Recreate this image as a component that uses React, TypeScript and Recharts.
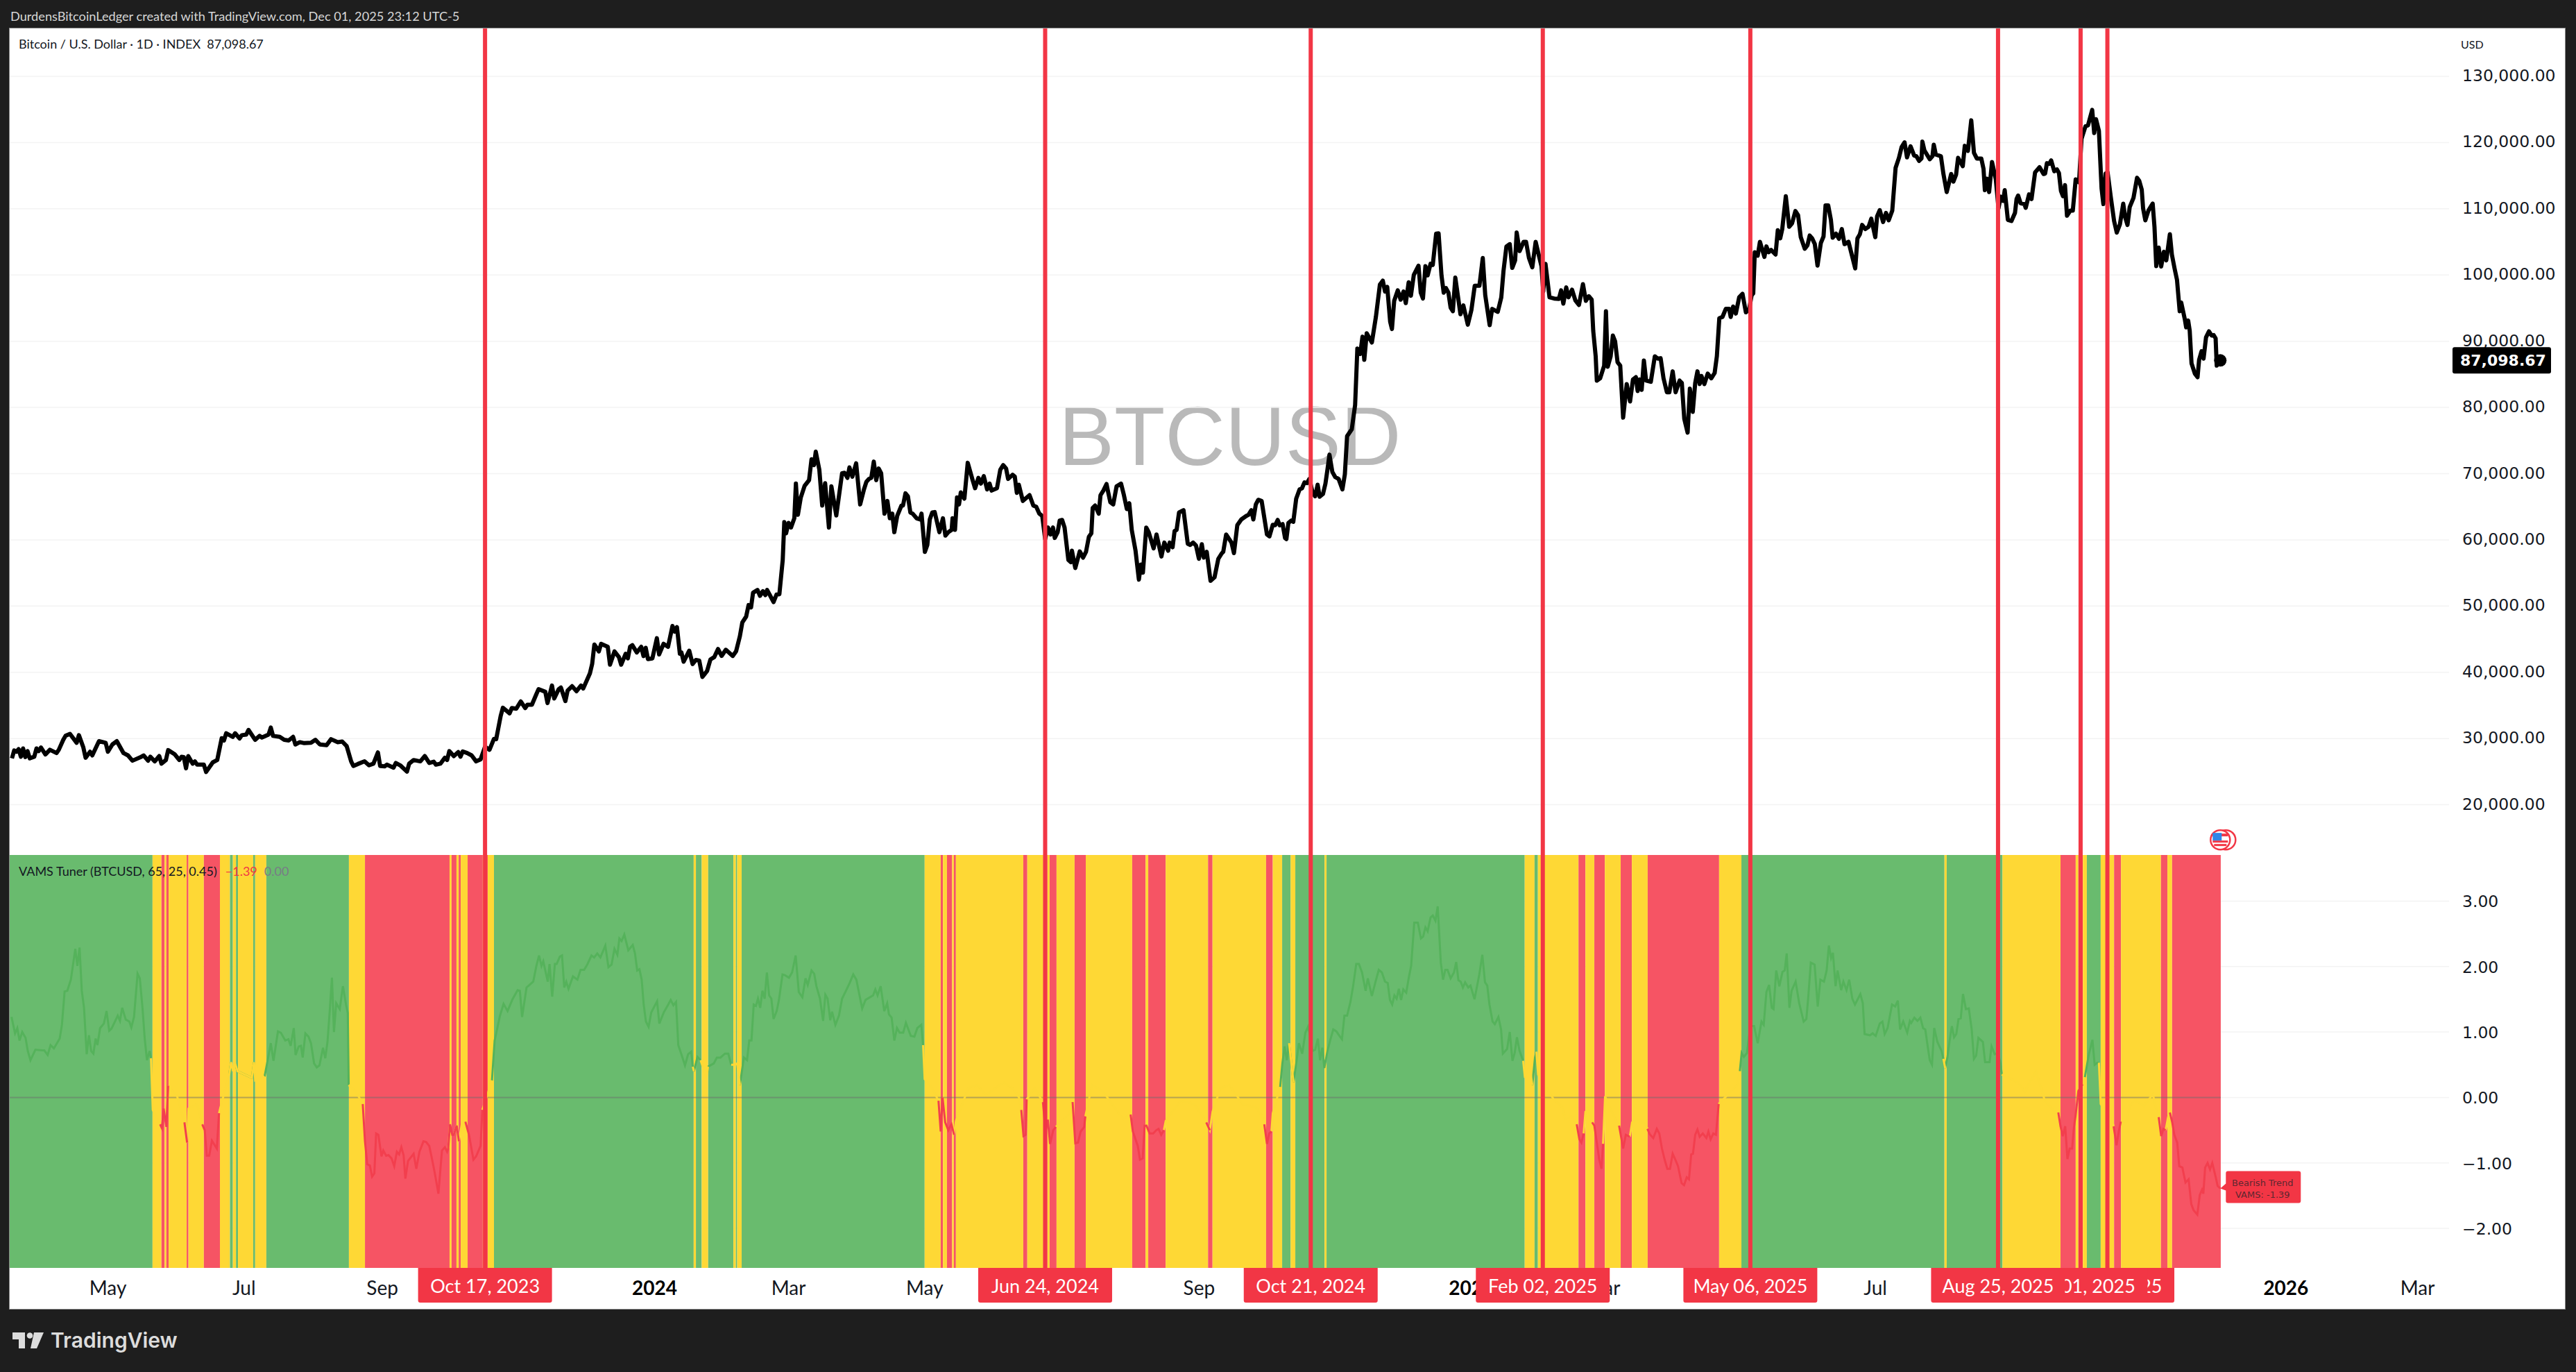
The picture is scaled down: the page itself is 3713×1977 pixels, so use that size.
import React from 'react';
import { ComposedChart, Line, XAxis, YAxis, CartesianGrid, ReferenceArea, ReferenceLine, ReferenceDot } from 'recharts';

type Pair = [number, number];

// day = days since Mar 18 2023
const btc2023: Pair[] = [[1,27000],[2,28200],[3,28000],[4,28400],[5,27250],[6,28500],[7,27200],[8,28100],[9,27000],[11,27250],[12,28500],[13,28100],[14,28650],[16,27600],[18,28300],[21,27800],[22,28300],[24,29800],[25,30400],[27,30700],[30,29350],[31,30500],[33,28650],[34,27100],[36,28000],[37,27450],[40,29600],[43,29350],[44,28000],[46,29100],[48,29600],[51,27800],[53,27450],[55,26650],[59,27250],[60,27450],[62,26650],[63,27250],[65,26550],[67,27350],[68,26200],[70,26750],[71,28250],[74,27600],[76,26750],[77,27250],[78,27200],[79,25500],[80,27350],[82,26200],[83,26550],[84,26050],[87,26050],[88,24950],[91,26400],[93,26750],[95,30050],[96,29700],[97,30800],[100,30250],[101,30800],[103,30000],[104,30500],[106,30600],[107,31300],[110,29800],[112,30400],[113,30150],[116,30600],[117,31650],[118,30400],[121,30250],[123,29800],[125,29700],[127,30250],[128,29100],[130,29450],[132,29300],[135,29350],[137,29800],[139,29100],[142,29000],[144,29900],[147,29450],[149,29550],[151,28850],[153,26550],[154,25850],[156,26150],[159,26550],[161,25950],[163,26200],[165,27900],[166,25850],[168,25800],[169,26050],[172,25600],[173,26300],[175,25950],[178,25000],[179,26200],[181,26750],[184,26550],[186,27350],[188,26300],[190,26500],[191,26050],[193,26200],[195,27100],[196,26750],[197,28100],[199,27350],[201,27950],[202,27250],[203,28050],[205,27800],[207,27450],[209,26550],[211,26850],[213,28750],[215,28300],[217,29950],[218,29900],[220,33400],[221,34650],[224,33800],[225,34600],[227,34500],[229,35600],[231,34600],[232,35100],[234,35100],[236,36700],[237,37450],[240,37050],[241,35350],[243,38000],[244,36050],[246,37450],[247,37700],[249,35650],[250,37230],[252,37900],[254,37150],[256,38000],[257,37550],[260,39850],[261,41250],[262,44200],[264,43150],[265,44300],[268,43850],[269,41150],[271,43150],[273,42300],[274,41150],[276,42800],[277,42100],[278,43850],[279,44100],[281,43000],[283,43850],[284,42450],[285,43700],[286,42000],[288,42100]];

const btc2024a: Pair[] = [[290,45150],[291,42700],[293,44300],[295,43850],[297,47000],[298,46130],[299,46830],[300.3,42800],[301,43000],[302,41600],[304.5,43270],[306,41250],[307.5,41870],[309,41760],[310.4,39300],[312.5,40190],[314,41940],[315.7,42290],[317.4,43520],[319,42470],[320.9,43400],[324,42470],[325.5,43170],[327.2,45440],[328.3,47540],[330,48410],[331.1,50150],[332.2,49800],[333.1,52010],[335.1,52430],[336.2,51550],[337.5,52250],[338.6,51660],[339.4,52430],[342.3,50610],[343.6,51730],[344.9,51800],[346.4,56970],[347.1,62700],[347.9,60990],[349,62560],[350.1,61860],[351.6,63260],[352.3,68500],[353.2,63780],[354.5,66400],[356.2,68150],[358.2,69020],[359.3,72170],[360.4,71290],[361.2,73320],[362.8,70600],[364.1,65180],[365.4,68570],[367.1,61860],[368.2,68080],[370.4,63680],[373,70070],[374.1,70140],[375.4,69370],[376.3,70940],[377.6,69550],[379.3,71570],[381.1,65350],[382.8,67620],[383.9,68780],[385,69200],[386.1,69370],[387.2,71820],[388.3,69020],[389.4,70770],[390.5,70070],[392,63960],[393.3,65880],[394.4,63260],[395.5,63960],[396.4,61160],[397.7,63610],[399.6,65180],[400.3,65180],[401.4,67030],[402.5,66580],[403.6,64130],[404.6,63960],[406.4,63260],[407.9,63080],[408.6,63960],[410.1,58190],[411.2,59240],[412.3,63080],[413.4,64130],[414.5,64200],[416.6,61160],[418.2,63260],[419.3,60640],[420.6,61160],[422.1,61510],[422.5,63260],[423.6,61510],[424.5,66400],[425.4,65350],[426.2,67170],[427.8,66230],[429.3,71640],[431.5,69020],[432.6,67800],[434.1,69370],[435.2,68500],[436.5,69620],[438,67620],[439.1,68500],[440,67450],[442.4,67800],[443.9,70600],[445.2,71290],[446.5,70770],[447.4,69200],[449.4,69830],[450.4,69550],[451.3,67100],[452.2,68330],[454,65880],[457,66750],[458.7,65180],[460,65000],[461.4,63960],[462.7,63610],[464,60110],[465.3,61860],[466.4,60810],[467.5,61860],[468.3,60290],[469.6,61160],[470.5,62910],[471.6,63010],[472.7,61860],[474.4,56970],[475.5,56620],[476,58360],[477.5,55750],[479.5,58260],[481,57320],[482.3,58190],[483.6,60460],[484.7,60990],[485.3,64830],[486.4,65180],[488,63960],[488.8,66750],[490.1,67450],[491.5,68430],[492.3,67100],[493.2,65700],[494.5,65350],[496,68080],[498,68500],[499.3,66750],[500.6,64660],[501.7,65530],[502.8,61510],[504.5,58360],[506,54000],[506.9,56270],[507.8,55050],[509.3,61860],[510.4,61160],[512.6,58720],[513.9,60810],[516.1,57490],[517.4,59590],[519.1,58360],[519.8,59590],[521.1,58890],[522,61340],[522.9,61510],[524,64130],[526,64480],[527.9,59420],[529,59240],[530.3,59590],[531.6,59140],[532.9,57140],[534.2,59340],[535.1,57320],[536.4,58190],[538.1,53820],[539.9,54350],[541.6,57140],[543.1,57950],[543.8,58190],[545.1,60810],[547.5,59590],[548.6,58000],[550.1,62210],[551.9,63080],[554.1,63610],[555.1,63780],[556.4,64480],[557.3,63080],[558.4,65350],[559.5,66050],[561,65880],[563.4,60810],[564.5,60530],[566,62280],[567.1,62210],[568.2,63010],[569.1,62210],[570.4,62380],[571.5,60290],[572.1,60110],[573,62560],[574.3,62910],[575.2,62730],[576.5,66230],[578,67620],[579.1,67800],[580.2,68680],[581.3,68570],[582.4,69200],[583.9,67100],[585,66580],[586.1,68330],[587,66510],[588.5,66930],[589.6,68500],[590.5,70600],[591.4,72870],[592.7,70250],[594,69480],[595.5,69200],[597.2,67620],[598.3,69900]];

const btc2024b: Pair[] = [[599.3,75660],[601.4,76710],[602.9,80380],[603.9,88900],[605.2,88070],[606.2,90690],[607,87190],[608.1,91210],[610.4,89810],[612.2,93660],[614,98550],[615.3,99140],[616.3,97500],[617.3,98200],[618.6,92960],[619.4,91840],[620.4,96100],[622,97680],[623.3,96280],[624.6,97500],[625.6,95750],[626.9,98900],[627.9,96870],[629.2,100020],[631.3,101410],[632.3,97330],[633.3,96450],[634.4,101340],[635.4,99950],[636.7,101690],[637.7,101520],[639.2,106240],[640.3,106300],[641.6,99950],[642.6,97330],[643.6,98030],[644.7,97330],[645.7,95060],[646.7,94530],[647.8,99600],[650.1,94080],[651.4,95400],[653.4,92500],[655,94710],[656.5,98380],[658.6,98380],[660.1,102570],[661.2,96980],[663.2,92430],[664.3,94880],[666.8,94430],[668.4,96630],[669.4,100650],[670.7,104310],[672.2,104660],[673.3,101070],[674.6,102220],[675.3,106410],[676.6,103620],[678.4,105010],[679.5,105010],[680.8,102570],[682.3,101170],[683.8,105010],[684.9,103440],[686.4,101340],[687.2,97500],[688.2,101690],[690,96630],[692.1,96450],[694.2,96380],[695.2,97680],[696.2,95680],[697.5,98130],[698.5,96630],[700.1,97780],[701.6,96170],[703.2,95470],[705,98620],[706.3,96100],[707.6,96800],[708.9,96280],[709.6,91560],[710.7,87720],[711.2,84050],[712.7,84400],[714.5,86320],[715.3,94530],[716.1,86150],[717.4,87720],[718.4,90860],[719.4,89990],[720.5,86840],[721.7,86320],[723,78460],[724.6,83530],[726.1,80900],[727.4,84220],[728.7,84570],[729.5,82480],[730.3,84220],[731.3,82650],[732.3,87090],[733.3,84050],[735.4,83870],[737.2,87720],[738.5,87370],[739.8,87440],[741.1,84400],[742.6,82300],[743.7,82300],[745.2,85450],[746.5,82300],[748.3,84050],[749.3,83700],[750.4,78280],[751.9,76190],[752.9,82830],[754.2,79330],[755.3,83700],[756.3,85450],[757.3,83530],[758.1,84750],[759.4,83530],[760.9,85100],[762.5,84400],[764,85200],[765,87720],[766.1,93480]];

const btc2025: Pair[] = [[767.5,93660],[769,94880],[770.5,94880],[771.2,93660],[772.3,95230],[773.5,94180],[775,96630],[776.5,97150],[778,94360],[779.5,94880],[780.6,96980],[781.3,97220],[782,103440],[783.3,102920],[784.3,105010],[786.3,102740],[787.2,104310],[788.2,103440],[789.3,103790],[791.3,103090],[792.3,106760],[793.4,105540],[794.3,106940],[795.9,111900],[797.4,107290],[798.7,107810],[800.2,109660],[801.4,109030],[802.6,105710],[804.4,103970],[805.6,104490],[806.6,105960],[807.7,105540],[808.9,104660],[810.1,101420],[811.6,104840],[812.8,105820],[813.7,110500],[814.9,110500],[816.1,108330],[816.9,105640],[818.4,106240],[819.7,105470],[821,106940],[822.2,104660],[824,105010],[827,101000],[828,105540],[829.1,106170],[830.1,107560],[831.5,106940],[833,107290],[834.2,108510],[836,105710],[836.8,108860],[838,109800],[839.5,108000],[840.8,109380],[842,108260],[843.6,109730],[845.1,116200],[846.6,117700],[847.8,119340],[849.1,120040],[850.2,117770],[851.8,119440],[853.4,118050],[854.4,117940],[855.6,117240],[856.7,117590],[857.1,120140],[858,118820],[860.4,117490],[861.6,117940],[862.2,119690],[863.1,118190],[865.4,117940],[866.5,115320],[868,112530],[870,115250],[871,114100],[872.2,115150],[873.1,117700],[875.2,116440],[876.1,119510],[877.5,118750],[879,123360],[880.2,118470],[881.5,117590],[883.5,117590],[884.5,116020],[885.1,112810],[886,114550],[887,112530],[888.3,117070],[890,114450],[891.2,110080],[892.2,111830],[893.3,111200],[894,112810],[895.4,108330],[897,108160],[898.6,109380],[899.3,111480],[900,112000],[901.1,110850],[902.8,110710],[903.4,110150],[904.9,112180],[906,111480],[907.6,115500],[909.6,116270],[911.4,115250],[912.1,115320],[912.9,116890],[914,116790],[914.8,117310],[916.2,115670],[917.4,115950],[918.3,115390],[919.2,112700],[920.1,111900],[921,113570],[921.9,108960],[923.4,109730],[924.5,109730],[925.8,114450],[927.3,114000],[928.4,120560],[930.2,122480],[931.3,122590],[933.2,124930],[934.1,121440],[934.9,123530],[936.2,121790],[937.4,113050],[938.2,110710],[939.2,115320],[940.1,115500],[941.5,111830],[943,108160],[944.2,106410],[945.6,107630],[947.1,110780],[948,108680],[949,107560],[950,110260],[951.7,111650],[953.3,114690],[954.3,114200],[955.4,112880],[956,110080],[957,108260],[958.4,109730],[960.3,110780],[961.1,107290],[961.9,101350],[963,104140],[964.1,101280],[965.3,103510],[966.4,102220],[968,106170],[968.9,103090],[970.1,101000],[971.2,99250],[972.4,94530],[973.1,95830],[974.7,93310],[975.3,92090],[976.2,93130],[976.9,91560],[977.7,86670],[979.2,85100],[980.4,84570],[981.1,87190],[982.2,88490],[983.1,87370],[984.2,90580],[985.5,91490],[986.7,90860],[987.6,90930],[988.5,90440],[989,86320],[990.6,87098.67]];

const vams2023: Pair[] = [[0.8,1.23],[2.4,.98],[3.4,1.06],[4.4,.87],[5.6,1],[7.1,.91],[8.1,.71],[9.3,.57],[11.5,.73],[14.5,.72],[15.5,.72],[17,.65],[18.3,.8],[19.8,.75],[22.4,.9],[23.4,1.11],[24.6,1.62],[25.8,1.63],[27.4,1.8],[29.4,2.27],[30.3,2.01],[31.3,2.29],[32.3,1.63],[33.3,1.37],[34.5,.66],[35.5,.95],[36.5,.71],[37.5,.67],[38.5,.9],[39.3,.8],[40.5,1.06],[42.2,1.13],[43.4,1.32],[44.6,1.02],[45.6,1.05],[48.4,1.25],[49.4,1.17],[50.4,1.37],[52,1.19],[53.6,1.16],[54.5,1.07],[55.7,1.23],[57.3,1.89],[58.3,1.82],[59.5,1.37],[60.5,.9],[61.5,.57],[62.7,.71],[63.3,.6],[64.1,-.19],[67.4,-.41],[68.2,-.47],[69,-.17],[70.2,-.45],[71,.18],[75,.02],[78.3,-.38],[79.5,-.69],[80.1,-.17],[84,-.1],[86.3,-.41],[87.4,-.5],[88.3,-.89],[89.4,-.89],[90.6,-.66],[92.8,-.78],[93.8,-.24],[94.3,-.17],[98.4,.36],[99.2,.54],[100.1,.4],[101,.52],[102.1,.4],[108.5,.3],[109.5,.54],[110,.26],[114.2,.32],[115.6,.57],[117,.83],[118.2,.56],[120.2,1.01],[121.5,.99],[123.5,.87],[124.9,.89],[125.9,.79],[127.3,1.06],[128.1,.65],[129.5,.78],[130.5,.79],[131.3,.61],[132.5,.98],[133.9,.93],[135,.83],[136.4,.52],[137.6,.46],[138.8,.49],[140.4,.76],[141.4,.6],[142.4,.85],[143.4,1.32],[144.4,1.83],[145.3,1],[146.3,1.44],[147.9,1.35],[149.3,1.7],[150.7,1.42],[151.5,1.29],[151.9,.19],[155,.1],[158.2,-.1],[159.2,-.67],[160.2,-1.02],[161.4,-1.04],[162.4,-1.21],[163.4,-1.16],[164.2,-.55],[165.2,-.57],[166.6,-.9],[167.4,-.81],[168.7,-.89],[169.7,-.88],[171.1,-.93],[172.3,-1.05],[173.5,-.83],[174.5,-.87],[175.5,-.76],[176.5,-.88],[177.3,-1.24],[178.5,-.97],[181,-.86],[182.2,-1.09],[183.6,-.83],[185.4,-.67],[186.6,-.68],[188,-.74],[189,-.9],[190.4,-1.14],[192.1,-1.47],[193.7,-.81],[195,-.76],[196,-.83],[196.5,-.78],[197.3,-.41],[198.3,-.57],[199,-.57],[200.3,-.43],[201.3,-.67],[202.8,-.36],[204.2,-.37],[205.8,-.57],[207.8,-.95],[209,-.9],[211,-.74],[211.8,-.19],[216.1,.26],[217.3,.87],[219.7,1.25],[221.3,1.43],[223.1,1.32],[225.3,1.5],[227.6,1.64],[228.6,1.63],[229.6,1.23],[231.6,1.68],[234.6,1.77],[236,2.01],[237.2,2.17],[238.3,2.01],[239.1,2.08],[241.1,1.77],[241.9,2.04],[243.1,1.54],[244.3,2.04],[245.1,2.04],[246.5,2.15],[247.5,2.17],[248.5,1.68],[249.4,1.77],[250.4,1.66],[252.4,1.85],[254.4,1.8],[255.8,1.95],[257.4,1.95],[258.8,2.03],[260.7,2.17],[261.9,2.14],[263.3,2.2],[264.7,2.14],[266.9,2.32],[268.3,1.99],[269.7,2.03],[271,2.27],[272.3,2.18],[273.2,2.43],[274.2,2.39],[275.4,2.49],[277.2,2.25],[279.2,2.33],[280.2,2.2],[281.2,1.94],[282.2,1.96],[283.2,1.8],[284.1,1.42],[285.1,1.16],[286.3,1.08],[287.5,1.3],[290.1,1.47],[291.1,1.13],[293.1,1.3],[295.1,1.42],[296.2,1.49],[297.4,1.41],[298.6,1.46],[299.6,.8],[301,.66],[302.6,.49],[304,.66],[305.4,.7],[306.1,.47]];

const vams2024: Pair[] = [[306.6,.4],[308.2,.62],[309.6,.57],[312.2,.3],[312.9,.47],[315.5,.52],[316.9,.61],[318.5,.61],[320.5,.67],[322,.67],[323.3,.5],[324.8,.5],[326,.52],[327.2,.19],[329,.61],[330.4,.57],[331.4,.87],[332.4,.87],[333.4,1.42],[334.4,1.4],[335.3,1.51],[336.3,1.37],[337.3,1.63],[338.3,1.51],[339.3,1.91],[340.3,1.56],[341.3,1.51],[342.3,1.2],[343.7,1.32],[344.7,1.49],[346.3,1.88],[347.3,1.87],[349.2,1.83],[350.6,1.91],[352.2,2.17],[353.6,1.61],[355.2,1.53],[356.6,1.82],[357.6,1.72],[359.3,1.94],[360.5,1.89],[361.5,1.7],[363.1,1.51],[364.5,1.17],[365.5,1.57],[366.5,1.51],[367.7,1.18],[368.5,1.31],[370,1.11],[371.6,1.25],[373,1.51],[375,1.65],[376.4,1.75],[378,1.88],[379.4,1.8],[380.4,1.63],[382,1.36],[383.5,1.49],[386.9,1.56],[387.9,1.65],[388.9,1.56],[390.3,1.7],[391.9,1.32],[393.2,1.44],[394,1.27],[395.2,1.22],[396.4,.87],[397.6,1.06],[398.8,.99],[400.4,.99],[401.6,1.14],[403.8,.94],[405.4,.93],[406.7,1.06],[408.5,1.11],[409.3,.8],[410,.28],[413,.16],[416.2,-.05],[417.2,-.52],[418,.0],[419.2,-.38],[420.6,-.5],[422,-.41],[423.2,-.57],[424,-.36],[429.5,.14],[433.5,.19],[437.5,.04],[445.4,.23],[449.4,.14],[452.3,0],[453.3,-.19],[454.3,-.59],[455.3,-.57],[455.7,-.03],[459.3,.14],[463,-.07],[464.2,-.52],[465.2,-.34],[466.2,-.71],[467.6,-.5],[468.8,-.45],[475,-.24],[476.3,-.07],[477.5,-.7],[478.7,-.69],[479.9,-.52],[481.5,-.45],[482,-.29],[485,.19],[490,.09],[495,-.15],[499,-.33],[501.9,-.26],[502.3,-.26],[503.3,-.52],[505.5,-.74],[506.5,-.95],[507.7,-.93],[508.6,-.43],[509.4,-.43],[510.8,-.55],[512.4,-.55],[513.8,-.5],[514.8,-.48],[516,-.57],[517.2,-.5],[518,-.36],[524.7,-.05],[530.7,-.1],[534.6,-.29],[536.2,-.38],[537.8,-.5],[539,-.22],[542.5,.14],[546.5,.19],[552.5,-.1],[558.4,-.15],[561.4,-.29],[562.2,-.41],[563.4,-.71],[564.4,-.55],[565.4,-.52],[566,-.24],[569.3,.16],[570.3,.52],[571.3,.78],[572.3,.57],[573.3,.83],[575.3,.23],[576.5,.52],[577.7,.83],[579.2,.67],[580.6,.99],[581.8,1.08],[582.8,.94],[583.8,.71],[585,.73],[586.2,.9],[587.2,.57],[588.2,.76],[589.1,.45],[590.5,.71],[591.7,.87],[593.1,1.04],[594.5,1.01],[595.7,.95],[597,.89],[598.1,1.25],[599.3,1.25],[600.8,1.46],[602,1.7],[603.4,2.04],[604.6,2.04],[606,1.91],[607.6,1.63],[608.6,1.82],[610.4,1.55],[611.9,1.75],[613.5,1.95],[614.9,1.91],[616.3,1.77]];

const vams2025: Pair[] = [[617.5,1.75],[618.5,1.49],[619.5,1.42],[620.5,1.56],[621.5,1.51],[622.5,1.66],[623.5,1.49],[624.5,1.65],[625.8,1.6],[627,1.84],[628,2.01],[629.4,2.67],[631,2.67],[632.4,2.43],[633.4,2.46],[634.4,2.6],[635.4,2.54],[636.7,2.75],[637.7,2.78],[638.9,2.7],[639.9,2.92],[641.3,2.06],[642.3,1.8],[643.3,1.95],[644.3,1.95],[645.7,1.82],[647.2,1.91],[648.2,2.07],[649.2,1.79],[650.2,1.77],[651.2,1.68],[652.2,1.76],[653.6,1.68],[654.6,1.71],[656.4,1.5],[658.5,1.87],[659.9,2.18],[661.1,1.76],[662.1,1.71],[663.1,1.42],[664.5,1.16],[665.5,1.12],[667.1,1.23],[668.3,1.04],[669.1,.67],[671,.74],[672.2,1],[673.4,.56],[674.4,.68],[675.4,.92],[676.6,.71],[678.2,.56],[679,.3],[681,.5],[682.3,.19],[683.5,.61],[684.1,.7],[684.9,.35],[691.9,-.03],[695.8,-.15],[697,-.33],[700,-.29],[702.2,-.41],[703.4,-.64],[704.3,-.69],[705.3,-.55],[706.1,-.22],[707.7,-.2],[709.1,-.38],[710.1,-.43],[711.3,-.71],[712.3,-.95],[713.3,-1.09],[714,-.71],[714.9,.02],[717.6,-.19],[720.6,-.41],[721.2,-.43],[723,-.78],[724.2,-.57],[726,-.6],[727,-.38],[729.5,-.34],[733,-.41],[733.9,-.48],[734.9,-.56],[736.5,-.62],[738.1,-.48],[739.2,-.55],[740.4,-.78],[741.6,-.95],[742.8,-1.09],[744,-1.09],[745.2,-.86],[746.4,-.95],[747.6,-1.05],[749.2,-1.31],[750.3,-1.34],[751.5,-1.22],[752.5,-1.25],[753.5,-.87],[754.3,-.86],[755.3,-.57],[756.3,-.49],[757.3,-.6],[758.7,-.55],[760.3,-.62],[761.2,-.52],[762.2,-.64],[763.4,-.55],[764.6,-.57],[765.8,-.1],[774.1,.19],[775.3,.4],[776.1,.68],[777.1,.62],[778.5,.68],[780,1.09],[781.7,1.09],[783.3,.83],[785,1.16],[786,1.11],[787.2,1.61],[788.4,1.72],[789.6,1.37],[790.4,1.35],[791.6,1.94],[793,1.7],[794.4,1.92],[795.4,1.94],[796.3,2.2],[797.5,1.37],[798.5,1.63],[800.3,1.77],[801.9,1.44],[803.9,1.16],[805.1,1.2],[805.9,1.51],[807.1,2.06],[808.8,2.03],[810.2,1.39],[811.4,1.8],[813,1.77],[814.2,1.94],[815.2,2.32],[816.2,2.13],[817,2.21],[818.2,1.7],[819.1,1.94],[820.7,1.64],[821.7,1.77],[823.1,1.64],[824.3,1.8],[825.7,1.51],[826.9,1.42],[829.3,1.58],[830.4,1.44],[831.2,.97],[833.6,.95],[834.8,.98],[836.2,.94],[838,1.13],[839.2,1.16],[840.2,.97],[841.5,1.06],[843.5,1.42],[844.9,1.39],[846.1,1.48],[847.1,1.04],[848.5,1.16],[850.3,.99],[851.5,1.17],[852.1,1.14],[853.5,1.22],[854.9,1.17],[856.2,1.22],[857.4,1.06],[858.4,1.04],[859.4,.8],[860.4,.57],[861.4,.5],[862.4,1.06],[863.8,.85],[865.7,.71],[866.5,.59],[867.3,.45],[868.3,.61],[869.3,.87],[870.3,1.09],[871.3,.92],[872.3,.97],[873.3,1.2],[874.3,1.21],[875.3,1.58],[876.6,1.35],[877.9,1.36],[879.2,1.04],[880.2,.59],[881.2,.64],[882.2,.91],[884.2,.85],[885.2,.54],[887.2,.54],[888.1,.78],[889.5,.66],[891,.68],[892.1,.52],[892.7,.35],[900,.23],[903,.09],[908,.4],[912,-.05],[917,-.24],[918,-.23],[919,-.44],[920,-.59],[921.1,-.44],[922.1,-.94],[923.1,-.78],[924.2,-.78],[925,-.46],[925.7,-.29],[927,.1],[928.9,.2],[929.9,.31],[931.7,.66],[933.3,.88],[934.3,.5],[935.5,.53],[936.2,.53],[937,-.1],[939,-.2],[942,-.34],[942.8,-.44],[944.1,-.73],[945.1,-.52],[946,-.37],[948.5,-.37],[950,-.13],[952.2,-.04],[956.3,-.13],[960.4,.05],[962,-.2],[963,-.3],[964.1,-.59],[965.1,-.48],[966.1,-.5],[967.2,-.3],[968,-.23],[969,-.37],[970,-.57],[971.3,-.69],[972.2,-1.05],[973.6,-1.07],[975,-1.3],[976.4,-1.25],[977.6,-1.63],[978.6,-1.72],[980.3,-1.79],[981.4,-1.49],[982.4,-1.41],[983,-1.47],[983.8,-1.07],[984.9,-1],[986,-1.1],[987,-1],[988.5,-1.21],[989.4,-1.35],[990.6,-1.39]];

// regime bands: [first day, state]
const bands: [number, string][] = [[0,'g'],[64,'y'],[68,'r'],[69.4,'y'],[70.2,'r'],[71.2,'y'],[79.3,'r'],[80.1,'y'],[87,'r'],[94.2,'y'],[98.7,'g'],[100,'y'],[101.4,'g'],[102.3,'y'],[109.1,'g'],[110,'y'],[115,'g'],[152,'y'],[159.2,'r'],[197.1,'y'],[198,'r'],[200.2,'y'],[201.2,'r'],[202.1,'y'],[205.2,'r'],[212,'y'],[212.5,'r'],[214.2,'y'],[217,'g'],[306.5,'y'],[307.5,'g'],[310.1,'y'],[313,'g'],[324.3,'y'],[325.4,'g'],[326,'y'],[328,'g'],[410,'y'],[417.2,'r'],[418.2,'y'],[420,'r'],[422.3,'y'],[423.1,'r'],[424,'y'],[454.2,'r'],[456,'y'],[463.2,'r'],[465,'y'],[466,'r'],[469.1,'y'],[477.2,'r'],[482.2,'y'],[503,'r'],[509,'y'],[510.2,'r'],[518,'y'],[537,'r'],[539,'y'],[563,'r'],[566,'y'],[570.2,'g'],[574,'y'],[576.1,'g'],[589.2,'y'],[590.1,'g'],[678.9,'y'],[683.3,'g'],[684.8,'y'],[703,'r'],[706.1,'y'],[710.1,'r'],[714.8,'y'],[721.9,'r'],[726.9,'y'],[734,'r'],[766,'y'],[776,'g'],[867,'y'],[868,'g'],[893,'y'],[919,'r'],[925.8,'y'],[927,'r'],[929,'y'],[930.8,'g'],[937,'y'],[943,'r'],[946.1,'y'],[964,'r'],[966.9,'y'],[969,'r']];
const bandEnd = 990.8;
const bandColors: Record<string, string> = { g: '#69bb6e', y: '#fed835', r: '#f65464' };
const lineColors: Record<string, string> = { g: '#55b25b', y: '#fdd835', r: '#f23f4e' };

const events = [
  { day: 940, label: 'Oct 13, 2025' },
  { day: 928, label: 'Oct 01, 2025' },
  { day: 891, label: 'Aug 25, 2025' },
  { day: 780, label: 'May 06, 2025' },
  { day: 687, label: 'Feb 02, 2025' },
  { day: 583, label: 'Oct 21, 2024' },
  { day: 464, label: 'Jun 24, 2024' },
  { day: 213, label: 'Oct 17, 2023' },
];

const priceTicks = [20000,30000,40000,50000,60000,70000,80000,90000,100000,110000,120000,130000];
const lastPrice = 87098.67;
const vamsTicks = [-2,-1,0,1,2,3];
const timeTickDays = [44,105,167,289,349,410,533,655,714,836,1020,1079];
const timeTickLabels = ['May','Jul','Sep','2024','Mar','May','Sep','2025','Mar','Jul','2026','Mar'];

const RED = '#f23645';
const INK = '#131722';
const AXIS_FONT = '"DejaVu Sans", sans-serif';
const UI_FONT = 'Lato, sans-serif';
const X_MAX = 1093.1;

const priceData = [...btc2023, ...btc2024a, ...btc2024b, ...btc2025].map(([day, price]) => ({ day, price }));
const vamsPoints = [...vams2023, ...vams2024, ...vams2025];

const stateAt = (d: number) => {
  let s = bands[0][1];
  for (const [start, st] of bands) if (d >= start) s = st;
  return s;
};
const vamsData = vamsPoints.map(([day, v]) => ({ day, v } as any));
vamsData.forEach((row: any, i: number) => {
  const s = stateAt(row.day);
  row[s] = row.v;
  if (i > 0) vamsData[i - 1][s] = vamsData[i - 1].v;
});

const PriceTick = (p: any) => {
  const v = p.payload.value;
  if (v === lastPrice) {
    return (
      <g>
        <rect x={p.x - 14} y={p.y - 19} width={142} height={38} rx={3} fill="#000" />
        <text x={p.x - 3} y={p.y} dominantBaseline="central" fill="#fff" fontFamily={AXIS_FONT} fontWeight={700} fontSize={22}>{v.toLocaleString('en-US', { minimumFractionDigits: 2 })}</text>
      </g>
    );
  }
  return <text x={p.x} y={p.y - 1} dominantBaseline="central" fill={INK} fontFamily={AXIS_FONT} fontSize={23.5}>{v.toLocaleString('en-US', { minimumFractionDigits: 2 })}</text>;
};
const VamsTick = (p: any) => (
  <text x={p.x} y={p.y + 1} dominantBaseline="central" fill={INK} fontFamily={AXIS_FONT} fontSize={23.5}>
    {p.payload.value < 0 ? '\u2212' + Math.abs(p.payload.value).toFixed(2) : p.payload.value.toFixed(2)}
  </text>
);
const TimeTick = (p: any) => {
  const label = timeTickLabels[timeTickDays.indexOf(p.payload.value)];
  const year = /^\d+$/.test(label);
  return <text x={p.x} y={1855 - 1232} textAnchor="middle" dominantBaseline="central" fill={year ? '#000' : INK} fontFamily={UI_FONT} fontWeight={year ? 700 : 400} fontSize={28}>{label}</text>;
};

const EventTag = ({ viewBox, text }: any) => {
  const cx = viewBox.x;
  const top = viewBox.y + viewBox.height;
  return (
    <g>
      <path d={`M${cx - 96.5} ${top} h193 v47 a3 3 0 0 1 -3 3 h-187 a3 3 0 0 1 -3 -3 z`} fill={RED} />
      <text x={cx} y={top + 25} textAnchor="middle" dominantBaseline="central" fill="#fff" fontFamily={UI_FONT} fontSize={27}>{text}</text>
    </g>
  );
};

const FlagMark = ({ cx, cy }: any) => (
  <g>
    <circle cx={cx + 8} cy={cy} r={14} fill="#fff" stroke={RED} strokeWidth={2.5} />
    <circle cx={cx} cy={cy} r={14} fill="#fff" stroke={RED} strokeWidth={2.5} />
    <rect x={cx - 11} y={cy - 9} width={22} height={4} fill={RED} />
    <rect x={cx - 11} y={cy + 1} width={22} height={3} fill={RED} />
    <rect x={cx - 9} y={cy + 6} width={18} height={3} fill={RED} />
    <rect x={cx - 11} y={cy - 10} width={13} height={11} fill="#2f86e8" />
  </g>
);

const BearishTag = ({ cx, cy }: any) => (
  <g>
    <path d={`M${cx} ${cy} l8 -7 v-15 a3 3 0 0 1 3 -3 h102 a3 3 0 0 1 3 3 v40 a3 3 0 0 1 -3 3 h-102 a3 3 0 0 1 -3 -3 v-15 z`} fill={RED} />
    <text x={cx + 61} y={cy - 8} textAnchor="middle" dominantBaseline="central" fill="#5c2730" fontFamily={AXIS_FONT} fontSize={13}>Bearish Trend</text>
    <text x={cx + 61} y={cy + 9} textAnchor="middle" dominantBaseline="central" fill="#5c2730" fontFamily={AXIS_FONT} fontSize={13}>VAMS: -1.39</text>
  </g>
);

const abs = (left: number, top: number, extra: any = {}) => ({ position: 'absolute' as const, left, top, whiteSpace: 'pre' as const, ...extra });

export default function App() {
  return (
    <div style={{ position: 'absolute', left: 0, top: 0, width: 3713, height: 1977, background: '#1e1e1e', overflow: 'hidden' }}>
      <div style={abs(15, 12, { color: '#d6d6d6', fontFamily: UI_FONT, fontSize: 18.2, lineHeight: '22px' })}>DurdensBitcoinLedger created with TradingView.com, Dec 01, 2025 23:12 UTC-5</div>
      <div style={{ position: 'absolute', left: 14, top: 41, width: 3683, height: 1845, background: '#fff', outline: '1px solid #8b8b8b' }} />
      <div style={abs(1526, 558, { color: '#b9b9b9', fontFamily: '"Liberation Sans", sans-serif', fontSize: 120, lineHeight: '140px' })}>BTCUSD</div>

      <div style={{ position: 'absolute', left: 14, top: 41 }}>
        <ComposedChart width={3683} height={1191} data={priceData} margin={{ top: 0, right: 0, bottom: 0, left: 0 }}>
          <CartesianGrid horizontal vertical={false} stroke="#f3f3f3" strokeWidth={1.5} horizontalValues={priceTicks} />
          <XAxis dataKey="day" type="number" domain={[0, X_MAX]} hide />
          <YAxis orientation="right" width={167} type="number" domain={[12410, 137235]} ticks={[...priceTicks, lastPrice]} interval={0} axisLine={false} tickLine={false} tickSize={0} tickMargin={19} tick={<PriceTick />} />
          <Line dataKey="price" stroke="#000" strokeWidth={6} dot={false} isAnimationActive={false} strokeLinejoin="round" />
          {events.map((e) => (
            <ReferenceLine key={e.day} x={e.day} stroke={RED} strokeWidth={6} />
          ))}
          <ReferenceDot x={990.6} y={lastPrice} r={9} fill="#000" stroke="none" />
          <ReferenceDot x={990.6} y={14700} r={14} shape={<FlagMark />} />
        </ComposedChart>
      </div>

      <div style={{ position: 'absolute', left: 14, top: 1232 }}>
        <ComposedChart width={3683} height={654} data={vamsData} margin={{ top: 0, right: 0, bottom: 0, left: 0 }}>
          <CartesianGrid horizontal vertical={false} stroke="#f3f3f3" strokeWidth={1.5} horizontalValues={vamsTicks} />
          <XAxis dataKey="day" type="number" domain={[0, X_MAX]} height={59} ticks={timeTickDays} interval={0} axisLine={false} tickLine={false} tick={<TimeTick />} />
          <YAxis orientation="right" width={167} type="number" domain={[-2.604, 3.705]} ticks={vamsTicks} interval={0} axisLine={false} tickLine={false} tickSize={0} tickMargin={19} tick={<VamsTick />} />
          {bands.map(([s, st], i) => (
            <ReferenceArea key={s} x1={s} x2={i + 1 < bands.length ? bands[i + 1][0] : bandEnd} fill={bandColors[st]} fillOpacity={1} stroke="none" />
          ))}
          <ReferenceLine segment={[{ x: 0, y: 0 }, { x: bandEnd, y: 0 }]} stroke="rgba(110,110,110,0.5)" strokeWidth={2} />
          {['g', 'y', 'r'].map((k) => (
            <Line key={k} dataKey={k} stroke={lineColors[k]} strokeWidth={3} dot={false} connectNulls={false} isAnimationActive={false} />
          ))}
          <ReferenceDot x={990.6} y={-1.39} r={1} shape={<BearishTag />} />
        </ComposedChart>
      </div>

      <div style={{ position: 'absolute', left: 14, top: 1232 }}>
        <ComposedChart width={3683} height={654} data={vamsData} margin={{ top: 0, right: 167, bottom: 59, left: 0 }}>
          <XAxis dataKey="day" type="number" domain={[0, X_MAX]} hide />
          <YAxis type="number" domain={[-2.604, 3.705]} hide />
          <Line dataKey="v" stroke="none" strokeWidth={0} dot={false} isAnimationActive={false} />
          {events.map((e) => (
            <ReferenceLine key={e.day} x={e.day} stroke={RED} strokeWidth={6} label={<EventTag text={e.label} />} />
          ))}
        </ComposedChart>
      </div>

      <div style={abs(27, 52, { color: '#131722', fontFamily: UI_FONT, fontSize: 18, lineHeight: '22px' })}>Bitcoin / U.S. Dollar · 1D · INDEX  87,098.67</div>
      <div style={abs(3547, 54, { color: '#131722', fontFamily: UI_FONT, fontSize: 16, lineHeight: '20px' })}>USD</div>
      <div style={abs(27, 1244, { color: '#131722', fontFamily: UI_FONT, fontSize: 18, lineHeight: '22px' })}>
        VAMS Tuner (BTCUSD, 65, 25, 0.45)
        <span style={{ color: RED, marginLeft: 12 }}>−1.39</span>
        <span style={{ color: '#787b86', marginLeft: 10 }}>0.00</span>
      </div>

      <svg style={{ position: 'absolute', left: 0, top: 1900 }} width={80} height={60}>
        <path d="M18 20 H36 V43 H27 V30 H18 Z" fill="#dcdcdc" />
        <circle cx={43} cy={24.5} r={4.3} fill="#dcdcdc" />
        <path d="M49 20 H63 L53 43 H44 Z" fill="#dcdcdc" />
      </svg>
      <div style={abs(73, 1911, { color: '#dcdcdc', fontFamily: 'Inter, sans-serif', fontWeight: 600, fontSize: 30, lineHeight: '40px' })}>TradingView</div>
    </div>
  );
}
